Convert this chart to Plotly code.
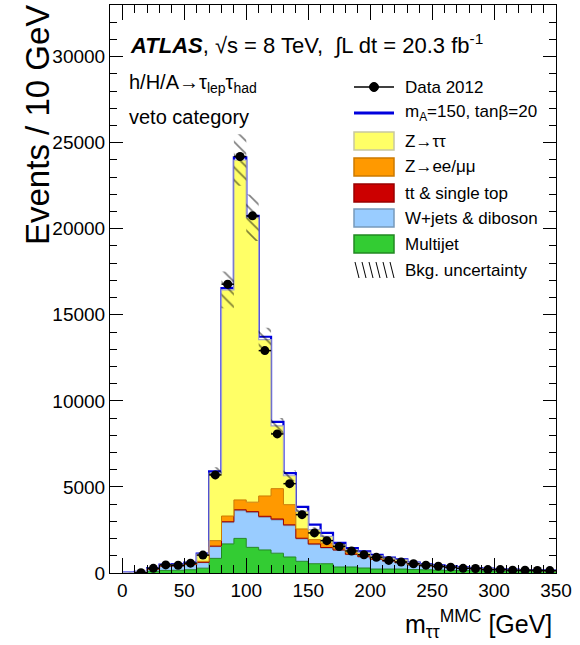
import numpy as np
import plotly.graph_objects as go

# ---------------- data (10 GeV bins, 0..350 GeV) ----------------
bin_edges = list(range(0, 360, 10))
bin_centers = [e + 5 for e in bin_edges[:-1]]

multijet = [0, 10, 100, 150, 160, 190, 280, 850, 1690, 2010, 1490, 1340, 1150, 930,
            680, 540, 540, 350, 350, 290, 230, 230, 230, 200, 190, 170, 150, 140,
            130, 120, 110, 100, 95, 90, 85]
wjets = [20, 30, 120, 230, 240, 290, 320, 680, 1240, 1610, 2020, 1900, 1930, 1820,
         1300, 1110, 910, 970, 720, 640, 550, 450, 350, 260, 210, 180, 150, 120,
         100, 80, 70, 60, 50, 40, 35]
ttbar = [0, 0, 5, 10, 10, 15, 20, 30, 50, 55, 55, 55, 60, 50, 40, 40, 30, 20, 20,
         20, 20, 20, 20, 15, 15, 12, 10, 10, 8, 8, 6, 5, 5, 4, 4]
zll = [0, 5, 20, 30, 30, 35, 60, 320, 330, 570, 550, 1180, 1760, 1170, 540, 250,
       260, 110, 110, 110, 70, 60, 50, 30, 30, 25, 25, 20, 18, 15, 13, 12, 10, 9, 8]
ztautau = [0, 15, 35, 50, 60, 50, 420, 3920, 13140, 19750, 16530, 9080, 3650, 1680,
           1030, 580, 390, 200, 160, 140, 130, 110, 120, 85, 55, 45, 35, 30, 25, 20,
           15, 15, 10, 10, 10]
signal = [5, 10, 10, 20, 20, 20, 30, 100, 100, 150, 100, 170, 230, 150, 255, 290,
          200, 100, 90, 60, 60, 30, 20, 20, 15, 15, 10, 10, 8, 6, 5, 4, 4, 3, 3]
data2012 = [None, 20, 270, 470, 450, 570, 1040, 5700, 16780, 24200, 20750, 12920,
            8080, 5190, 3390, 2330, 1880, 1540, 1280, 1060, 910, 730, 640, 540, 455,
            390, 340, 270, 260, 200, 200, 165, 160, 150, 140]
bkg_unc = [5, 10, 25, 35, 35, 40, 80, 350, 1070, 1500, 1350, 700, 450, 300, 200,
           140, 120, 90, 80, 70, 60, 50, 45, 35, 30, 26, 22, 20, 17, 15, 13, 12, 10,
           10, 9]

x_ticks = [0, 50, 100, 150, 200, 250, 300, 350]
y_ticks = [0, 5000, 10000, 15000, 20000, 25000, 30000]

# ---------------- styling ----------------
FONT = "Liberation Sans, Arial, sans-serif"
C_ZTT, L_ZTT = "#ffff66", "#a4a4c8"
C_ZLL, L_ZLL = "#ff9900", "#cc7a00"
C_TT, L_TT = "#cc0000", "#990000"
C_W, L_W = "#99ccff", "#7799bb"
C_QCD, L_QCD = "#33cc33", "#228822"
C_SIG = "#0000dd"

W, H = 580, 645
ML, MR, MT, MB = 110, 24, 5, 72
PW, PH = W - ML - MR, H - MT - MB


def px(x):
    return (x - ML) / PW


def py(y):
    return (H - MB - y) / PH


def step(vals):
    v = list(vals)
    return v + [v[-1]]


fig = go.Figure()

bkg_total = (np.array(multijet, float) + np.array(wjets, float) + np.array(ttbar, float)
             + np.array(zll, float) + np.array(ztautau, float))

# signal stacked on background: drawn first (behind), outline only
sig_top = bkg_total + np.array(signal, dtype=float)
fig.add_trace(go.Scatter(
    x=bin_edges, y=step(sig_top), mode="lines",
    line=dict(shape="hv", color=C_SIG, width=2.2), showlegend=False,
    hoverinfo="skip"))
# zero baseline for the first filled component
fig.add_trace(go.Scatter(
    x=bin_edges, y=[0] * len(bin_edges), mode="lines",
    line=dict(width=0, color="rgba(0,0,0,0)"), showlegend=False, hoverinfo="skip"))

components = [
    ("Multijet", multijet, C_QCD, L_QCD),
    ("W+jets & diboson", wjets, C_W, L_W),
    ("tt & single top", ttbar, C_TT, L_TT),
    ("Z->ee/mumu", zll, C_ZLL, L_ZLL),
    ("Z->tautau", ztautau, C_ZTT, L_ZTT),
]
cum = np.zeros(len(bin_centers))
for i, (name, vals, fc, lc) in enumerate(components):
    cum = cum + np.array(vals, dtype=float)
    fig.add_trace(go.Scatter(
        x=bin_edges, y=step(cum), mode="lines",
        line=dict(shape="hv", color=lc, width=1.2 if i == 4 else 1),
        fill="tonexty", fillcolor=fc, name=name,
        showlegend=False, hoverinfo="skip"))

# uncertainty hatch band
unc = np.array(bkg_unc, dtype=float)
fig.add_trace(go.Scatter(
    x=bin_edges, y=step(bkg_total - unc), mode="lines",
    line=dict(shape="hv", width=0, color="rgba(0,0,0,0)"), showlegend=False,
    hoverinfo="skip"))
fig.add_trace(go.Scatter(
    x=bin_edges, y=step(bkg_total + unc), mode="lines",
    line=dict(shape="hv", width=0, color="rgba(0,0,0,0)"), fill="tonexty",
    fillcolor="rgba(0,0,0,0)",
    fillpattern=dict(shape="\\", fgcolor="black", bgcolor="rgba(0,0,0,0)",
                     size=9, solidity=0.18),
    showlegend=False, hoverinfo="skip"))

# data
d = np.array([np.nan if v is None else v for v in data2012], dtype=float)
fig.add_trace(go.Scatter(
    x=bin_centers, y=d, mode="markers",
    marker=dict(color="black", size=9),
    error_x=dict(type="constant", value=5, width=0, color="black", thickness=1.5),
    error_y=dict(type="data", array=np.sqrt(np.nan_to_num(d)), width=0,
                 color="black", thickness=1.5),
    showlegend=False, hoverinfo="skip"))

# ---------------- axes ----------------
axis_common = dict(showline=True, linecolor="black", linewidth=1, mirror="ticks",
                   ticks="inside", tickcolor="black", tickwidth=1, showgrid=False,
                   zeroline=False, tickfont=dict(family=FONT, size=19, color="black"))
fig.update_xaxes(range=[-10, 350], tickvals=x_ticks, ticklen=15,
                 minor=dict(ticks="inside", dtick=10, tick0=0, ticklen=8,
                            tickcolor="black", tickwidth=1),
                 **axis_common)
fig.update_yaxes(range=[0, 33000], tickvals=y_ticks, ticklen=13, tickformat="d",
                 minor=dict(ticks="inside", dtick=1000, tick0=0, ticklen=7,
                            tickcolor="black", tickwidth=1),
                 **axis_common)

# ---------------- texts ----------------
ann = []
ann.append(dict(x=px(128), y=py(44), xref="paper", yref="paper", xanchor="left",
                yanchor="middle", showarrow=False,
                text="<b><i>ATLAS</i></b>, √s = 8 TeV,  ∫L dt = 20.3 fb<sup>-1</sup>",
                font=dict(family=FONT, size=22, color="black")))
ann.append(dict(x=px(127), y=py(83), xref="paper", yref="paper", xanchor="left",
                yanchor="middle", showarrow=False,
                text="h/H/A→τ<sub>lep</sub>τ<sub>had</sub>",
                font=dict(family=FONT, size=20, color="black")))
ann.append(dict(x=px(127), y=py(117), xref="paper", yref="paper", xanchor="left",
                yanchor="middle", showarrow=False, text="veto category",
                font=dict(family=FONT, size=20, color="black")))
ann.append(dict(x=px(38), y=py(3), xref="paper", yref="paper", xanchor="center",
                yanchor="top", showarrow=False, text="Events / 10 GeV", textangle=-90,
                font=dict(family=FONT, size=33, color="black")))
ann.append(dict(x=px(554), y=py(624), xref="paper", yref="paper", xanchor="right",
                yanchor="middle", showarrow=False,
                text="m<sub>ττ</sub><sup>MMC</sup> [GeV]",
                font=dict(family=FONT, size=25, color="black")))

# ---------------- manual legend ----------------
legend_rows = [
    ("Data 2012", 87, "data"),
    ("m<sub>A</sub>=150, tanβ=20", 113, "sig"),
    ("Z→ττ", 141, (C_ZTT, "#c8c8a0")),
    ("Z→ee/μμ", 167, (C_ZLL, L_ZLL)),
    ("tt & single top", 193, (C_TT, L_TT)),
    ("W+jets & diboson", 218, (C_W, L_W)),
    ("Multijet", 244, (C_QCD, L_QCD)),
    ("Bkg. uncertainty", 270, "unc"),
]
shapes = []
sx0, sx1 = 354, 394
for label, yy, kind in legend_rows:
    ann.append(dict(x=px(403), y=py(yy), xref="paper", yref="paper", xanchor="left",
                    yanchor="middle", showarrow=False, text=label,
                    font=dict(family=FONT, size=17, color="black")))
    if kind == "data":
        shapes.append(dict(type="line", xref="paper", yref="paper", x0=px(sx0), x1=px(sx1),
                           y0=py(yy), y1=py(yy), line=dict(color="black", width=1.5)))
        shapes.append(dict(type="circle", xref="paper", yref="paper",
                           x0=px(374 - 4.5), x1=px(374 + 4.5), y0=py(yy - 4.5),
                           y1=py(yy + 4.5), fillcolor="black",
                           line=dict(color="black", width=1)))
    elif kind == "sig":
        shapes.append(dict(type="line", xref="paper", yref="paper", x0=px(sx0), x1=px(sx1),
                           y0=py(yy), y1=py(yy), line=dict(color=C_SIG, width=3)))
    elif kind == "unc":
        for k in range(6):
            xa = sx0 + 1 + k * 7
            shapes.append(dict(type="line", xref="paper", yref="paper",
                               x0=px(xa), x1=px(xa + 4), y0=py(yy - 8), y1=py(yy + 8),
                               line=dict(color="black", width=1)))
    else:
        fc, lc = kind
        shapes.append(dict(type="rect", xref="paper", yref="paper", x0=px(sx0), x1=px(sx1),
                           y0=py(yy - 9), y1=py(yy + 9), fillcolor=fc,
                           line=dict(color=lc, width=1.5)))

fig.update_layout(
    width=W, height=H,
    margin=dict(l=ML, r=MR, t=MT, b=MB),
    paper_bgcolor="white", plot_bgcolor="white",
    showlegend=False,
    annotations=ann, shapes=shapes,
    font=dict(family=FONT, color="black"),
)

fig.write_html(
    "out.html",
    config={"displayModeBar": False, "staticPlot": True},
    post_script="document.body.style.margin='0px';document.body.style.padding='0px';",
)
